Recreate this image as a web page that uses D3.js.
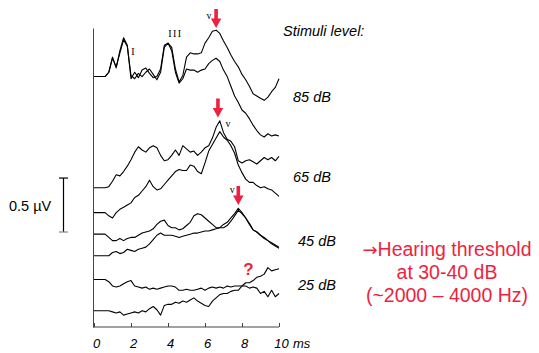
<!DOCTYPE html>
<html>
<head>
<meta charset="utf-8">
<script src="https://cdn.jsdelivr.net/npm/d3@7"></script>
<style>
  body { margin: 0; background: #fff; }
  svg { display: block; }
</style>
</head>
<body>
<div id="chart"></div>
<script>
// ABR recordings, sampled every 0.2 ms, amplitude in µV relative to each trace's start
const sampleStep = 0.2;
const levels = ['85 dB', '65 dB', '45 dB', '25 dB'];
const xTicks = [0, 2, 4, 6, 8, 10];

const trace85a = [0,0,0,0,0.04,0.18,0.08,0.24,0.36,0.29,-0.02,0.04,-0.01,0.06,0.08,0.03,-0.01,0,0.07,0.29,0.31,0.27,0.07,-0.05,0.01,0.18,0.22,0.21,0.21,0.22,0.31,0.36,0.42,0.43,0.40,0.33,0.27,0.20,0.14,0.09,0.02,-0.03,-0.09,-0.16,-0.18,-0.20,-0.22,-0.19,-0.14,-0.10,-0.02];
const trace85b = [0,0,0,0,0.04,0.17,0.09,0.22,0.34,0.28,0.01,-0.02,0.03,0,0.04,0.07,0.02,-0.03,0.04,0.27,0.31,0.24,0.04,-0.06,-0.02,0.07,0.06,0.06,0.04,0.06,0.07,0.12,0.15,0.17,0.14,0.06,0,-0.09,-0.18,-0.24,-0.31,-0.34,-0.39,-0.45,-0.50,-0.54,-0.56,-0.53,-0.55,-0.54,-0.55];
const trace65a = [0,0,0,0,0.01,0.06,0.12,0.11,0.15,0.20,0.26,0.33,0.38,0.35,0.33,0.37,0.39,0.37,0.30,0.25,0.26,0.30,0.35,0.30,0.39,0.36,0.33,0.34,0.30,0.33,0.37,0.39,0.46,0.56,0.62,0.51,0.45,0.43,0.38,0.25,0.23,0.25,0.26,0.24,0.22,0.25,0.28,0.26,0.28,0.25,0.29];
const trace65b = [0,0,0,0,-0.03,-0.05,0,0.03,0.05,0.07,0.09,0.14,0.16,0.20,0.24,0.30,0.24,0.21,0.22,0.26,0.30,0.34,0.38,0.40,0.39,0.39,0.44,0.43,0.38,0.36,0.46,0.57,0.63,0.69,0.75,0.70,0.67,0.62,0.55,0.44,0.37,0.31,0.28,0.28,0.25,0.23,0.24,0.22,0.21,0.18,0.15];
const trace45a = [0,0,0,0,-0.03,-0.06,-0.06,-0.04,-0.06,-0.04,-0.03,-0.03,-0.01,0.01,0.02,0.03,0.05,0.09,0.12,0.13,0.08,0.06,0.06,0.04,0.05,0.08,0.11,0.17,0.19,0.18,0.15,0.12,0.09,0.06,0.06,0.06,0.08,0.12,0.17,0.22,0.19,0.15,0.09,0.04,0.02,-0.01,-0.04,-0.06,-0.09,-0.11,-0.13];
const trace45b = [0,0,0,0,0,0.03,0.04,0.02,0.03,0.06,0.05,0.04,0.06,0.07,0.08,0.11,0.15,0.19,0.21,0.19,0.19,0.19,0.18,0.17,0.18,0.19,0.20,0.21,0.21,0.22,0.23,0.23,0.24,0.25,0.26,0.29,0.31,0.35,0.39,0.44,0.40,0.35,0.30,0.24,0.22,0.19,0.17,0.14,0.12,0.10,0.08];
const trace25a = [0,0,0,0,-0.02,-0.06,-0.07,-0.06,-0.04,-0.02,-0.01,-0.06,-0.07,-0.08,-0.07,-0.09,-0.08,-0.09,-0.08,-0.07,-0.06,-0.06,-0.07,-0.10,-0.10,-0.09,-0.10,-0.10,-0.09,-0.08,-0.10,-0.08,-0.07,-0.08,-0.07,-0.08,-0.06,-0.07,-0.06,-0.06,-0.06,-0.06,-0.08,-0.07,-0.08,-0.13,-0.11,-0.16,-0.10,-0.16,-0.13];
const trace25b = [0,0,0,0,0,-0.01,-0.02,-0.01,-0.04,-0.03,-0.02,-0.01,-0.02,0,-0.01,0.02,0.04,0.01,-0.04,0.05,0.06,0.06,0.08,0.07,0.09,0.08,0.10,0.12,0.09,0.07,0.05,0.04,0.09,0.12,0.15,0.16,0.16,0.18,0.19,0.19,0.23,0.26,0.26,0.28,0.31,0.32,0.34,0.40,0.37,0.38,0.39];

// wave V peaks marked with arrows: [latency ms, level µV on the stacked scale]
const waveVPeaks = [[6.6, 2.77], [6.7, 1.94], [7.8, 1.13]];
const earlyWaves = [['I', 2.1, 2.52], ['III', 4.4, 2.69]];

const width = 539, height = 353;
const red = '#ef1f40';

// vertical stacking of the traces (µV above the time axis)
const traces = [
    { data: trace85a, offset: 2.32 },
    { data: trace85b, offset: 2.32 },
    { data: trace65a, offset: 1.29 },
    { data: trace65b, offset: 1.06 },
    { data: trace45a, offset: 0.86 },
    { data: trace45b, offset: 0.66 },
    { data: trace25a, offset: 0.44 },
    { data: trace25b, offset: 0.15 }
];
const levelLabelY = [2.08, 1.34, 0.75, 0.34];
const levelLabelX = [293, 293, 298, 298];

const x = d3.scaleLinear().domain([0, 10]).range([94, 279]);
const y = d3.scaleLinear().domain([0, 2.77]).range([327, 28]);

const svg = d3.select('#chart').append('svg')
    .attr('width', width)
    .attr('height', height)
    .style('font-family', '"Liberation Sans", Arial, sans-serif');

svg.append('rect').attr('width', width).attr('height', height).attr('fill', '#fff');

// axes
const xAxis = svg.append('g')
    .attr('transform', 'translate(0,' + y(0) + ')')
    .call(d3.axisBottom(x).tickValues(xTicks).tickSizeInner(-4).tickSizeOuter(0).tickPadding(12));
xAxis.select('.domain').attr('stroke', '#444').attr('d', 'M93,0H' + x(10));
xAxis.selectAll('.tick line').attr('stroke', '#444');
xAxis.selectAll('.tick text')
    .attr('dx', 2)
    .style('font-size', '13px')
    .style('font-style', 'italic')
    .style('font-family', '"Liberation Sans", Arial, sans-serif')
    .attr('fill', '#000');
xAxis.append('text')
    .attr('x', x(10) + 14)
    .attr('y', 12)
    .attr('dy', '0.71em')
    .attr('text-anchor', 'start')
    .attr('fill', '#000')
    .style('font-size', '13px')
    .style('font-style', 'italic')
    .style('font-family', '"Liberation Sans", Arial, sans-serif')
    .text('ms');

const yAxis = svg.append('g')
    .attr('transform', 'translate(93,0)')
    .call(d3.axisLeft(y).tickValues([]).tickSizeOuter(0));
yAxis.select('.domain').attr('stroke', '#444');

// traces
const line = d3.line()
    .x((d, i) => x(i * sampleStep))
    .y(d => d);

svg.append('g').selectAll('path')
    .data(traces)
    .enter().append('path')
    .attr('d', t => line(t.data.map(v => y(t.offset + v))))
    .attr('fill', 'none')
    .attr('stroke', '#000')
    .attr('stroke-width', 1.1)
    .attr('stroke-linejoin', 'round');

// wave labels
svg.selectAll('.wave')
    .data(earlyWaves)
    .enter().append('text')
    .attr('class', 'wave')
    .attr('x', d => x(d[1]))
    .attr('y', d => y(d[2]))
    .attr('text-anchor', 'middle')
    .attr('letter-spacing', d => d[0].length > 1 ? 1.5 : 0)
    .style('font-family', '"Liberation Serif", "Times New Roman", serif')
    .style('font-size', '10px')
    .text(d => d[0]);

const vOffsets = [[-7, -9], [10, 9], [-6, -12]];
svg.selectAll('.vlabel')
    .data(waveVPeaks)
    .enter().append('text')
    .attr('class', 'vlabel')
    .attr('x', (d, i) => x(d[0]) + vOffsets[i][0])
    .attr('y', (d, i) => y(d[1]) + vOffsets[i][1])
    .attr('text-anchor', 'middle')
    .style('font-family', '"Liberation Serif", "Times New Roman", serif')
    .style('font-size', '10px')
    .text('v');

// red arrows pointing at wave V
svg.selectAll('.arrow')
    .data(waveVPeaks)
    .enter().append('path')
    .attr('class', 'arrow')
    .attr('transform', d => 'translate(' + x(d[0]) + ',' + y(d[1]) + ')')
    .attr('d', 'M-1.8,-19H1.8V-9.5H5.2L0,0L-5.2,-9.5H-1.8Z')
    .attr('fill', red);

svg.append('text')
    .attr('x', x(8.35))
    .attr('y', y(0.48))
    .attr('text-anchor', 'middle')
    .attr('fill', red)
    .style('font-size', '17px')
    .style('font-weight', 'bold')
    .text('?');

// stimulus level labels
svg.append('text')
    .attr('x', 283)
    .attr('y', 36)
    .style('font-size', '14.5px')
    .style('font-style', 'italic')
    .text('Stimuli level:');

svg.selectAll('.level')
    .data(levels)
    .enter().append('text')
    .attr('class', 'level')
    .attr('x', (d, i) => levelLabelX[i])
    .attr('y', (d, i) => y(levelLabelY[i]))
    .style('font-size', '14.5px')
    .style('font-style', 'italic')
    .text(d => d);

// scale bar 0.5 µV
const bar = svg.append('g').attr('stroke', '#000').attr('stroke-width', 1.2);
bar.append('line').attr('x1', 63.5).attr('x2', 63.5).attr('y1', y(1.38)).attr('y2', y(0.88));
bar.append('line').attr('x1', 59).attr('x2', 68).attr('y1', y(1.38)).attr('y2', y(1.38));
bar.append('line').attr('x1', 59).attr('x2', 68).attr('y1', y(0.88)).attr('y2', y(0.88)).attr('stroke', '#888');
svg.append('text')
    .attr('x', 9)
    .attr('y', 211)
    .style('font-size', '14.5px')
    .text('0.5 µV');

// conclusion
const note = ['Hearing threshold', 'at 30-40 dB', '(~2000 \u2013 4000 Hz)'];
const noteText = svg.selectAll('.note')
    .data(note)
    .enter().append('text')
    .attr('class', 'note')
    .attr('x', 447)
    .attr('y', (d, i) => 256 + i * 23)
    .attr('text-anchor', 'middle')
    .attr('fill', red)
    .style('font-size', '19.5px');
noteText.filter((d, i) => i === 0).append('tspan')
    .style('font-family', '"DejaVu Sans", sans-serif')
    .style('font-size', '18px')
    .text('\u2192');
noteText.append('tspan').text(d => d);
</script>
</body>
</html>
